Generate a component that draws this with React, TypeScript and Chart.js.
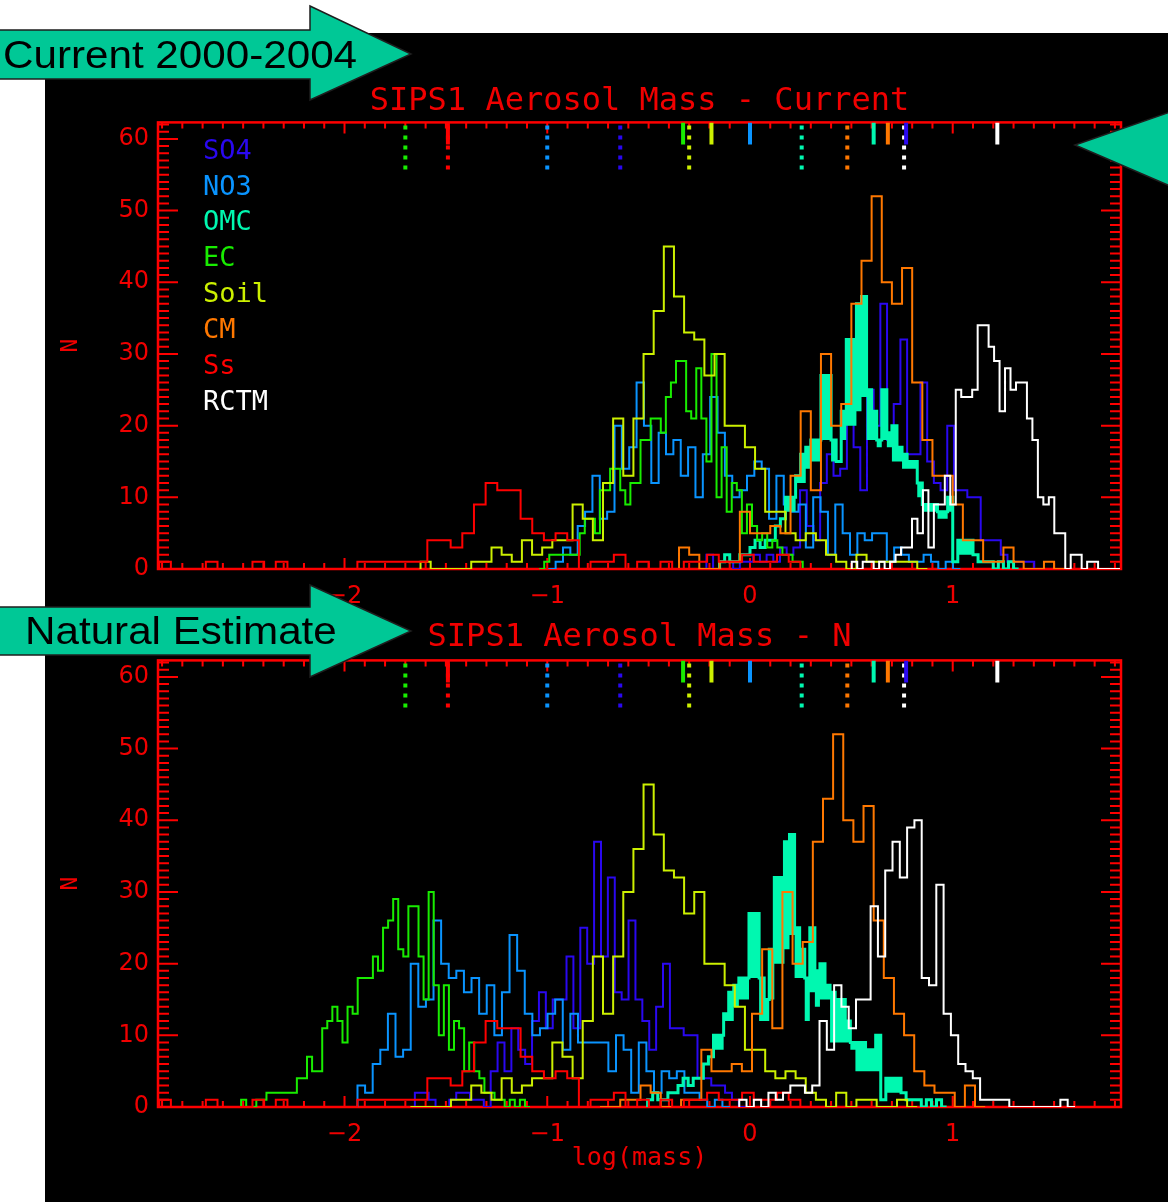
import React, { useEffect, useRef } from 'react';
import { Chart, registerables } from 'chart.js';

Chart.register(...registerables);

// ---------- series definitions ----------
const SERIES = ['SO4', 'NO3', 'OMC', 'EC', 'Soil', 'CM', 'Ss', 'RCTM'];
const COLORS = ['#2a08f0', '#0a94ff', '#00f8b0', '#18ec00', '#ccf000', '#ff7800', '#ff0000', '#ffffff'];
const LINE_W = [2, 2, 3, 2, 2, 2, 2, 2];

// median markers (log mass) drawn at the top of each panel
const MEDIAN_CUR = [0.77, 0.0, 0.61, -0.33, -0.19, 0.68, -1.49, 1.22];
const MEDIAN_NAT = [-0.64, -1.0, 0.255, -1.70, -0.30, 0.48, -1.49, 0.76];

// ---------- "Current" histograms (bin start, bin width, counts) ----------
const SO4_CUR_START = -0.248; const SO4_CUR_BIN = 0.033;
const SO4_CUR = [0, 2, 0, 1, 1, 0, 1, 1, 2, 1, 2, 1, 3, 2, 3, 11, 6, 4, 12, 16, 13, 14, 21, 17, 11, 25, 20, 37, 18, 23, 32, 16, 16, 26, 15, 12, 11, 20, 11, 11, 10, 10, 4, 4, 4, 2, 1, 1, 1, 1, 0];

const NO3_CUR_START = -0.995; const NO3_CUR_BIN = 0.0363;
const NO3_CUR = [0, 1, 3, 2, 6, 8, 13, 7, 8, 20, 14, 17, 26, 20, 12, 19, 16, 18, 13, 17, 10, 16, 24, 19, 13, 10, 11, 13, 15, 14, 7, 13, 9, 8, 9, 3, 10, 8, 2, 9, 5, 2, 5, 4, 5, 5, 1, 3, 2, 1, 1, 2, 1, 0, 1, 0];

// OMC is drawn as a band between an upper and a lower step outline
const OMC_CUR_START = -0.15; const OMC_CUR_BIN = 0.025;
const OMC_CUR = [1, 2, 1, 1, 2, 2, 3, 4, 3, 4, 4, 6, 7, 10, 10, 13, 16, 17, 18, 18, 27, 27, 18, 15, 22, 32, 32, 37, 38, 25, 22, 18, 25, 19, 20, 17, 16, 15, 15, 12, 9, 9, 9, 8, 8, 10, 1, 4, 4, 4, 2, 1, 1, 1, 0, 1, 0, 1, 0];
const OMC_CUR_LO = [1, 2, 1, 1, 2, 2, 3, 4, 3, 4, 4, 6, 7, 8, 8, 12, 12, 14, 15, 15, 18, 18, 15, 15, 18, 20, 20, 22, 24, 18, 18, 17, 18, 17, 15, 15, 14, 14, 14, 10, 8, 8, 8, 7, 7, 8, 1, 2, 2, 2, 2, 1, 1, 1, 0, 1, 0, 1, 0];

const EC_CUR_START = -1.04; const EC_CUR_BIN = 0.025;
const EC_CUR = [0, 1, 2, 2, 2, 2, 2, 2, 5, 7, 7, 5, 11, 11, 14, 14, 11, 9, 12, 12, 18, 18, 21, 21, 19, 24, 26, 29, 29, 22, 21, 28, 21, 15, 30, 10, 17, 8, 12, 11, 5, 9, 6, 4, 5, 3, 4, 3, 2, 2, 1, 1, 0];

const SOIL_CUR_START = -1.625; const SOIL_CUR_BIN = 0.05;
const SOIL_CUR = [1, 0, 0, 0, 0, 1, 1, 3, 2, 1, 4, 2, 3, 4, 4, 9, 7, 4, 12, 21, 13, 21, 30, 36, 45, 38, 33, 32, 27, 30, 20, 20, 17, 14, 8, 8, 5, 4, 5, 4, 2, 1, 0, 2, 1, 1, 1, 1, 1, 0];

const CM_CUR_START = -0.35; const CM_CUR_BIN = 0.05;
const CM_CUR = [3, 2, 0, 0, 1, 1, 8, 5, 5, 6, 5, 13, 22, 11, 30, 20, 23, 37, 43, 52, 40, 37, 42, 26, 18, 13, 13, 9, 4, 4, 1, 1, 3, 1, 0, 0, 1, 0];

const SS_CUR_START = -2.914; const SS_CUR_BIN = 0.0575;
const SS_CUR = [1, 0, 0, 0, 1, 0, 0, 0, 1, 0, 1, 0, 0, 0, 0, 0, 0, 1, 1, 1, 1, 1, 1, 4, 4, 3, 5, 9, 12, 11, 11, 7, 5, 4, 5, 4, 0, 1, 1, 2, 0, 1, 0, 1, 0, 1, 1, 2, 1, 1, 2, 1, 1, 2, 1, 0];

const RCTM_CUR_START = 0.502; const RCTM_CUR_BIN = 0.027;
const RCTM_CUR = [1, 0, 1, 1, 0, 1, 0, 1, 2, 3, 3, 7, 5, 11, 3, 9, 9, 13, 9, 25, 24, 24, 25, 34, 34, 31, 29, 22, 28, 25, 26, 26, 21, 18, 10, 9, 10, 5, 5, 0, 2, 2, 0, 1, 1, 0, 0, 0, 0];

// ---------- "N" (natural) histograms ----------
const SO4_NAT_START = -1.653; const SO4_NAT_BIN = 0.034;
const SO4_NAT = [2, 2, 1, 0, 0, 1, 2, 2, 1, 1, 0, 5, 9, 5, 11, 8, 6, 12, 16, 11, 15, 15, 21, 11, 25, 20, 37, 21, 32, 16, 15, 26, 15, 12, 8, 14, 20, 11, 11, 10, 10, 4, 4, 3, 3, 2, 1, 0];

const NO3_NAT_START = -1.936; const NO3_NAT_BIN = 0.0375;
const NO3_NAT = [3, 2, 6, 8, 13, 7, 8, 20, 14, 15, 26, 20, 18, 19, 16, 18, 13, 17, 10, 16, 24, 19, 13, 10, 11, 13, 15, 8, 13, 9, 9, 9, 9, 5, 10, 8, 2, 9, 5, 2, 5, 4, 5, 2, 2, 1, 0, 1, 0];

const OMC_NAT_START = -0.505; const OMC_NAT_BIN = 0.025;
const OMC_NAT = [1, 2, 1, 1, 2, 2, 3, 4, 3, 4, 4, 6, 7, 10, 10, 13, 16, 17, 18, 18, 27, 27, 18, 15, 22, 32, 32, 37, 38, 25, 22, 18, 25, 19, 20, 17, 16, 15, 15, 12, 9, 9, 9, 8, 8, 10, 1, 4, 4, 4, 2, 1, 1, 1, 0, 1, 0, 1, 0];
const OMC_NAT_LO = [1, 2, 1, 1, 2, 2, 3, 4, 3, 4, 4, 6, 7, 8, 8, 12, 12, 14, 15, 15, 18, 18, 12, 12, 15, 20, 20, 22, 24, 18, 18, 12, 16, 14, 15, 15, 9, 9, 9, 9, 8, 5, 5, 5, 5, 5, 1, 2, 2, 2, 2, 1, 1, 1, 0, 1, 0, 1, 0];

const EC_NAT_START = -2.535; const EC_NAT_BIN = 0.025;
const EC_NAT = [0, 1, 0, 0, 1, 1, 2, 2, 2, 2, 2, 2, 4, 4, 7, 5, 5, 11, 12, 14, 12, 9, 14, 13, 18, 18, 18, 21, 19, 25, 26, 29, 22, 21, 28, 28, 21, 15, 30, 17, 10, 17, 8, 12, 11, 5, 9, 5, 4, 2, 2, 1, 1, 0, 1, 0, 1, 0];

const SOIL_NAT_START = -1.675; const SOIL_NAT_BIN = 0.05;
const SOIL_NAT = [0, 0, 0, 0, 1, 1, 3, 2, 1, 4, 2, 3, 4, 4, 9, 7, 4, 12, 21, 13, 21, 30, 36, 45, 38, 33, 32, 27, 30, 20, 20, 17, 14, 8, 8, 5, 4, 5, 4, 2, 1, 0, 2, 0, 1, 1, 0, 0, 1, 0];

const CM_NAT_START = -0.74; const CM_NAT_BIN = 0.05;
const CM_NAT = [0, 0, 1, 1, 3, 2, 0, 0, 1, 1, 8, 5, 5, 6, 5, 13, 22, 11, 30, 20, 23, 37, 43, 52, 40, 37, 42, 26, 18, 13, 10, 5, 3, 2, 2, 0, 3, 0];

const SS_NAT_START = -2.914; const SS_NAT_BIN = 0.0575;
const SS_NAT = [1, 0, 0, 0, 1, 0, 0, 0, 1, 0, 1, 0, 0, 0, 0, 0, 0, 1, 1, 1, 1, 1, 1, 4, 4, 3, 5, 9, 12, 11, 11, 7, 5, 4, 5, 4, 0, 1, 1, 2, 0, 1, 0, 1, 0, 1, 1, 2, 1, 1, 2, 1, 1, 2, 1, 0];

const RCTM_NAT_START = -0.053; const RCTM_NAT_BIN = 0.036;
const RCTM_NAT = [1, 0, 1, 0, 2, 1, 2, 3, 3, 2, 3, 12, 8, 17, 14, 11, 15, 15, 28, 21, 33, 37, 32, 39, 40, 18, 17, 31, 13, 10, 6, 5, 4, 1, 1, 1, 1, 0, 0, 0, 0, 0, 0, 0, 1, 0];

// ---------- axes ----------
const X_MIN = -2.92;
const X_MAX = 1.83;
const Y_MAX = 62.3;
const X_TICKS = [-2, -1, 0, 1];
const Y_TICKS = [0, 10, 20, 30, 40, 50, 60];
const SOLID_END = 59.2;
const DOT_END = 55.5;

const RED = '#ff0000';
const TEXT_RED = '#f00000';
const MONO = "'DejaVu Sans Mono', monospace";
const SANS = "'DejaVu Sans', sans-serif";
const TEAL = '#00c896';

const CUR_HISTS = [
  [SO4_CUR_START, SO4_CUR_BIN, SO4_CUR],
  [NO3_CUR_START, NO3_CUR_BIN, NO3_CUR],
  [OMC_CUR_START, OMC_CUR_BIN, OMC_CUR, OMC_CUR_LO],
  [EC_CUR_START, EC_CUR_BIN, EC_CUR],
  [SOIL_CUR_START, SOIL_CUR_BIN, SOIL_CUR],
  [CM_CUR_START, CM_CUR_BIN, CM_CUR],
  [SS_CUR_START, SS_CUR_BIN, SS_CUR],
  [RCTM_CUR_START, RCTM_CUR_BIN, RCTM_CUR],
];
const NAT_HISTS = [
  [SO4_NAT_START, SO4_NAT_BIN, SO4_NAT],
  [NO3_NAT_START, NO3_NAT_BIN, NO3_NAT],
  [OMC_NAT_START, OMC_NAT_BIN, OMC_NAT, OMC_NAT_LO],
  [EC_NAT_START, EC_NAT_BIN, EC_NAT],
  [SOIL_NAT_START, SOIL_NAT_BIN, SOIL_NAT],
  [CM_NAT_START, CM_NAT_BIN, CM_NAT],
  [SS_NAT_START, SS_NAT_BIN, SS_NAT],
  [RCTM_NAT_START, RCTM_NAT_BIN, RCTM_NAT],
];

function stepPoints(start: number, bin: number, counts: number[]) {
  const pts: { x: number; y: number }[] = [{ x: start, y: 0 }];
  counts.forEach((c, k) => pts.push({ x: start + k * bin, y: c }));
  pts.push({ x: start + counts.length * bin, y: 0 });
  return pts;
}

function histDatasets(i: number, h: any[]) {
  const [start, bin, counts, lo] = h;
  const main: any = {
    label: SERIES[i],
    data: stepPoints(start, bin, counts),
    borderColor: COLORS[i],
    backgroundColor: COLORS[i],
    borderWidth: LINE_W[i],
    pointRadius: 0,
    stepped: true,
    fill: false,
    order: SERIES.length - 1 - i,
  };
  if (!lo) return [main];
  main.fill = '+1';
  const lower = {
    label: SERIES[i] + ' low',
    data: stepPoints(start, bin, lo),
    borderColor: COLORS[i],
    borderWidth: 0,
    pointRadius: 0,
    stepped: true,
    fill: false,
    order: SERIES.length - 1 - i,
  };
  return [main, lower];
}

function markerDatasets() {
  const out: any[] = [];
  SERIES.forEach((name, i) => {
    out.push({
      label: name + ' current',
      data: [{ x: MEDIAN_CUR[i], y: Y_MAX }, { x: MEDIAN_CUR[i], y: SOLID_END }],
      borderColor: COLORS[i], borderWidth: 4, pointRadius: 0, order: -2, borderCapStyle: 'butt',
    });
    out.push({
      label: name + ' natural',
      data: [{ x: MEDIAN_NAT[i], y: Y_MAX }, { x: MEDIAN_NAT[i], y: DOT_END }],
      borderColor: COLORS[i], borderWidth: 4, borderDash: [4, 6], borderDashOffset: -3, pointRadius: 0, order: -1, borderCapStyle: 'butt',
    });
  });
  return out;
}

const frame = {
  id: 'idlFrame',
  beforeDatasetsDraw(chart: any) {
    const { ctx, chartArea: a, scales } = chart;
    const xs = scales.x;
    const ys = scales.y;
    ctx.save();
    ctx.strokeStyle = RED;
    ctx.lineWidth = 2;
    ctx.beginPath();
    for (let k = -29; k <= 18; k++) {
      const px = xs.getPixelForValue(k / 10);
      const len = k % 10 === 0 ? 11 : 6;
      ctx.moveTo(px, a.bottom); ctx.lineTo(px, a.bottom - len);
      ctx.moveTo(px, a.top); ctx.lineTo(px, a.top + len);
    }
    for (let v = 1; v <= 62; v++) {
      const py = ys.getPixelForValue(v);
      const len = v % 10 === 0 ? 20 : 11;
      ctx.moveTo(a.left, py); ctx.lineTo(a.left + len, py);
      ctx.moveTo(a.right, py); ctx.lineTo(a.right - len, py);
    }
    ctx.stroke();
    ctx.lineWidth = 2.5;
    ctx.strokeRect(a.left, a.top, a.right - a.left, a.bottom - a.top);
    ctx.restore();
  },
};

const LEGEND_X = 203;
const LEGEND_Y = [152, 188, 223, 259, 295, 331, 367, 403];

const legendPlugin = {
  id: 'idlLegend',
  afterDraw(chart: any) {
    const opt = chart.options.plugins.idlLegend;
    if (!opt || !opt.show) return;
    const { ctx } = chart;
    ctx.save();
    ctx.font = `27px ${MONO}`;
    ctx.textBaseline = 'middle';
    ctx.textAlign = 'left';
    SERIES.forEach((s, i) => {
      ctx.fillStyle = COLORS[i];
      ctx.fillText(s, LEGEND_X, LEGEND_Y[i]);
    });
    ctx.restore();
  },
};

function fmtTick(v: number) {
  return v < 0 ? '\u2212' + Math.abs(v) : String(v);
}

type PanelProps = {
  title: string;
  hists: any[];
  top: number;
  height: number;
  padBottom: number;
  titlePad: { top: number; bottom: number };
  xAxisH: number;
  xTitle?: string;
  legend: boolean;
};

function Panel({ title, hists, top, height, padBottom, titlePad, xAxisH, xTitle, legend }: PanelProps) {
  const ref = useRef<HTMLCanvasElement | null>(null);
  useEffect(() => {
    if (!ref.current) return;
    const datasets: any[] = [];
    hists.forEach((h, i) => histDatasets(i, h).forEach((d) => datasets.push(d)));
    markerDatasets().forEach((d) => datasets.push(d));
    const chart = new Chart(ref.current, {
      type: 'line',
      data: { datasets },
      options: {
        responsive: false,
        animation: false,
        events: [],
        layout: { autoPadding: false, padding: { left: 50, right: 47, top: 0, bottom: padBottom } },
        plugins: {
          legend: { display: false },
          tooltip: { enabled: false },
          title: {
            display: true,
            fullSize: false,
            text: title,
            color: TEXT_RED,
            font: { family: MONO, size: 32, weight: 'normal', lineHeight: 1.2 },
            padding: titlePad,
          },
          idlLegend: { show: legend },
        } as any,
        scales: {
          x: {
            type: 'linear',
            min: X_MIN,
            max: X_MAX,
            afterFit: (s: any) => { s.height = xAxisH; },
            afterBuildTicks: (s: any) => { s.ticks = X_TICKS.map((v) => ({ value: v })); },
            grid: { display: false, drawTicks: false },
            border: { display: false },
            ticks: {
              padding: 13,
              color: TEXT_RED,
              font: { family: SANS, size: 24 },
              maxRotation: 0,
              autoSkip: false,
              callback: (v: any) => fmtTick(Number(v)),
            },
            title: xTitle
              ? { display: true, text: xTitle, color: TEXT_RED, font: { family: MONO, size: 25, lineHeight: 1.2 }, padding: { top: 0, bottom: 4 } }
              : { display: false },
          },
          y: {
            type: 'linear',
            min: 0,
            max: Y_MAX,
            afterFit: (s: any) => { s.width = 108; },
            afterBuildTicks: (s: any) => { s.ticks = Y_TICKS.map((v) => ({ value: v })); },
            grid: { display: false, drawTicks: false },
            border: { display: false },
            ticks: { padding: 9, color: TEXT_RED, font: { family: SANS, size: 24 }, autoSkip: false },
            title: { display: true, text: 'N', color: TEXT_RED, font: { family: MONO, size: 23, lineHeight: 1.2 }, padding: { top: 7, bottom: 0 } },
          },
        },
      } as any,
      plugins: [frame, legendPlugin],
    });
    return () => chart.destroy();
  }, []);
  return (
    <canvas
      ref={ref}
      width={1168}
      height={height}
      style={{ position: 'absolute', left: 0, top, width: 1168, height, zIndex: 1 }}
    />
  );
}

const arrowText: React.CSSProperties = {
  position: 'absolute',
  fontFamily: "'Liberation Sans', Arial, sans-serif",
  fontSize: 38,
  lineHeight: '38px',
  color: '#000',
  whiteSpace: 'nowrap',
  transform: 'scaleX(1.11)',
  transformOrigin: 'left center',
  zIndex: 3,
};

export default function App() {
  return (
    <div style={{ position: 'absolute', left: 0, top: 0, width: 1168, height: 1202, background: '#fff', overflow: 'hidden' }}>
      <div style={{ position: 'absolute', left: 45, top: 33, width: 1123, height: 1169, background: '#000' }} />
      <Panel
        title="SIPS1 Aerosol Mass - Current"
        hists={CUR_HISTS}
        top={0}
        height={610}
        padBottom={0}
        titlePad={{ top: 82, bottom: 2 }}
        xAxisH={41}
        legend={true}
      />
      <Panel
        title="SIPS1 Aerosol Mass - N"
        hists={NAT_HISTS}
        top={610}
        height={592}
        padBottom={25}
        titlePad={{ top: 8, bottom: 4 }}
        xAxisH={70}
        xTitle="log(mass)"
        legend={false}
      />
      <svg width={1168} height={1202} style={{ position: 'absolute', left: 0, top: 0, zIndex: 2, pointerEvents: 'none' }}>
        <polygon points="-2,30 310,30 310,6 411,54 310,100 310,79 -2,79" fill={TEAL} stroke="#1e1e1e" strokeWidth={1.5} />
        <polygon points="1075,145 1170,112 1170,186" fill={TEAL} stroke="#1e1e1e" strokeWidth={1.5} />
        <polygon points="-2,607 310,607 310,585 411,631 310,677 310,655 -2,655" fill={TEAL} stroke="#1e1e1e" strokeWidth={1.5} />
      </svg>
      <div style={{ ...arrowText, left: 3, top: 36 }}>Current 2000-2004</div>
      <div style={{ ...arrowText, left: 25, top: 612 }}>Natural Estimate</div>
    </div>
  );
}
